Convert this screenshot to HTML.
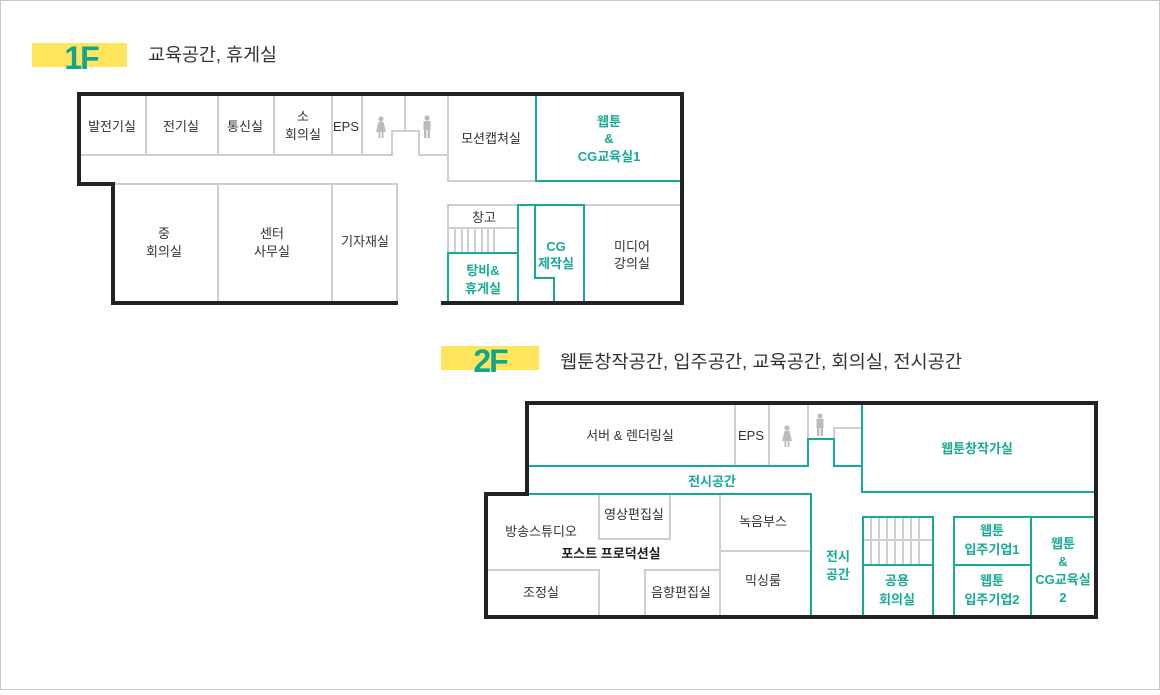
<!DOCTYPE html>
<html><head><meta charset="utf-8">
<style>
html,body{margin:0;padding:0;background:#fff;}
body{width:1160px;height:690px;overflow:hidden;}
svg text{font-family:"Liberation Sans","Noto Sans CJK KR",sans-serif;}
</style></head><body>
<svg width="1160" height="690" viewBox="0 0 1160 690" xmlns="http://www.w3.org/2000/svg">
<rect x="0.5" y="0.5" width="1159" height="689" fill="#fff" stroke="#c8c8c8"/>
<defs>
<g id="woman"><circle cx="0" cy="-8" r="2.6" fill="#bbb"/><path d="M-2.5,-5 L2.5,-5 L5,5 L-5,5 Z" fill="#bbb"/><rect x="-2.5" y="5" width="1.8" height="6" fill="#bbb"/><rect x="0.7" y="5" width="1.8" height="6" fill="#bbb"/></g>
<g id="man"><circle cx="0" cy="-8" r="2.6" fill="#bbb"/><rect x="-3.5" y="-5" width="7" height="9" fill="#bbb"/><rect x="-3" y="4" width="2.4" height="8" fill="#bbb"/><rect x="0.6" y="4" width="2.4" height="8" fill="#bbb"/></g>
</defs>

<!-- 1F header -->
<rect x="32" y="43" width="95" height="24" fill="#ffe45c"/>
<text x="81" y="69" text-anchor="middle" font-size="32" font-weight="bold" fill="#12a58e" letter-spacing="-2">1F</text>
<text x="148" y="61" font-size="18" fill="#333" textLength="129" lengthAdjust="spacingAndGlyphs">교육공간, 휴게실</text>

<!-- 2F header -->
<rect x="441" y="346" width="98" height="24" fill="#ffe45c"/>
<text x="490" y="372" text-anchor="middle" font-size="32" font-weight="bold" fill="#12a58e" letter-spacing="-2">2F</text>
<text x="560" y="368" font-size="18" fill="#333" textLength="402" lengthAdjust="spacingAndGlyphs">웹툰창작공간, 입주공간, 교육공간, 회의실, 전시공간</text>

<!-- 1F grey lines -->
<g stroke="#cfcfcf" stroke-width="2" fill="none">
<path d="M79,155 H392 V131 H419 V155 H448"/>
<path d="M146,94 V155 M218,94 V155 M274,94 V155 M332,94 V155 M362,94 V155 M405,94 V131"/>
<path d="M448,94 V181 H536"/>
<path d="M113,184 H397 V303 M218,184 V303 M332,184 V303"/>
<path d="M448,303 V205 H682 M448,228 H518"/>
<path d="M455,228 V253 M462,228 V253 M468,228 V253 M475,228 V253 M482,228 V253 M488,228 V253 M494,228 V253"/>
</g>
<g stroke="#17ab95" stroke-width="2" fill="none">
<path d="M536,94 V181 H682"/>
<path d="M448,303 V253 H518"/>
<path d="M518,303 V205 H584 V303"/>
<path d="M535,205 V278 H554 V303"/>
</g>
<g stroke="#222" stroke-width="4" fill="none">
<path d="M398,303 H113 V184 H79 V94 H682 V303 H441"/>
</g>
<use href="#woman" x="381" y="127"/>
<use href="#man" x="427" y="126"/>

<g font-size="13" fill="#333" text-anchor="middle">
<text x="112" y="131">발전기실</text>
<text x="181" y="131">전기실</text>
<text x="245" y="131">통신실</text>
<text x="303" y="121">소</text><text x="303" y="139">회의실</text>
<text x="346" y="131">EPS</text>
<text x="491" y="143">모션캡쳐실</text>
<text x="164" y="238">중</text><text x="164" y="256">회의실</text>
<text x="272" y="238">센터</text><text x="272" y="256">사무실</text>
<text x="365" y="246">기자재실</text>
<text x="484" y="222">창고</text>
<text x="632" y="251">미디어</text><text x="632" y="268">강의실</text>
</g>
<g font-size="13" fill="#17ab95" text-anchor="middle" font-weight="bold">
<text x="609" y="126">웹툰</text><text x="609" y="143">&amp;</text><text x="609" y="161">CG교육실1</text>
<text x="483" y="275">탕비&amp;</text><text x="483" y="293">휴게실</text>
<text x="556" y="251">CG</text><text x="556" y="268">제작실</text>
</g>

<!-- 2F -->
<g stroke="#cfcfcf" stroke-width="2" fill="none">
<path d="M735,403 V466 M769,403 V466 M808,403 V439"/>
<path d="M834,439 V428 H862"/>
<path d="M599,494 V539 H670 V494"/>
<path d="M486,570 H599 V617 M645,617 V570 H720"/>
<path d="M720,494 V617 M720,551 H811"/>
<path d="M863,540 H933"/>
<path d="M871,517 V565 M879,517 V565 M887,517 V565 M895,517 V565 M903,517 V565 M911,517 V565 M919,517 V565"/>
</g>
<g stroke="#17ab95" stroke-width="2" fill="none">
<path d="M527,466 H808 V439 H834 V466 H862"/>
<path d="M862,403 V492 H1096"/>
<path d="M527,494 H811 V617"/>
<path d="M863,617 V517 H933 V617 M863,565 H933"/>
<path d="M954,617 V517 H1096 M1031,517 V617 M954,565 H1031"/>
</g>
<g stroke="#222" stroke-width="4" fill="none">
<path d="M527,494 H486 V617 H1096 V403 H527 Z"/>
</g>
<use href="#woman" x="787" y="436"/>
<use href="#man" x="820" y="424"/>

<g font-size="13" fill="#333" text-anchor="middle">
<text x="630" y="440">서버 &amp; 렌더링실</text>
<text x="751" y="440">EPS</text>
<text x="541" y="536">방송스튜디오</text>
<text x="634" y="519">영상편집실</text>
<text x="611" y="558" font-weight="bold" fill="#222">포스트 프로덕션실</text>
<text x="763" y="526">녹음부스</text>
<text x="541" y="597">조정실</text>
<text x="681" y="597">음향편집실</text>
<text x="763" y="585">믹싱룸</text>
</g>
<g font-size="13" fill="#17ab95" text-anchor="middle" font-weight="bold">
<text x="977" y="453">웹툰창작가실</text>
<text x="712" y="486">전시공간</text>
<text x="838" y="561">전시</text><text x="838" y="579">공간</text>
<text x="897" y="585">공용</text><text x="897" y="604">회의실</text>
<text x="992" y="535">웹툰</text><text x="992" y="554">입주기업1</text>
<text x="992" y="585">웹툰</text><text x="992" y="604">입주기업2</text>
<text x="1063" y="548">웹툰</text><text x="1063" y="566">&amp;</text><text x="1063" y="584">CG교육실</text><text x="1063" y="602">2</text>
</g>
</svg>
</body></html>
